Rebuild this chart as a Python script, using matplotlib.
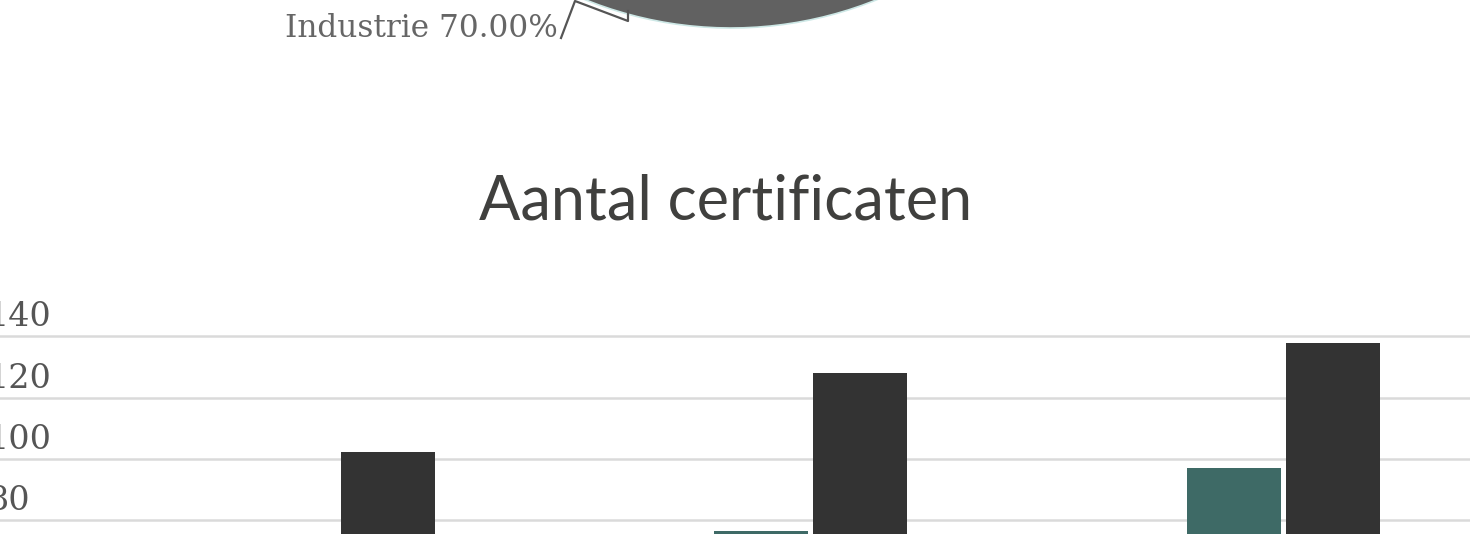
#!/usr/bin/env python3
"""Aantal certificaten: bar chart under a (cropped) pie chart."""

import matplotlib

matplotlib.use("Agg")
import matplotlib.pyplot as plt
from matplotlib.lines import Line2D
from matplotlib.transforms import offset_copy
import numpy as np

# pie data (only the bottom of the Industrie slice is visible)
pie_labels = ["Industrie", "Overig"]
pie_values = [70.0, 30.0]
pie_colors = ["#616161", "#3e6a66"]

# bar data
categories = ["2016", "2017", "2018"]
series_names = ["Nieuw", "Totaal"]
series_values = [
    [60, 76.5, 97],
    [102.3, 128, 137.7],
]
series_colors = ["#3e6a66", "#333333"]
yticks = [80, 100, 120, 140]

W, H = 1470, 534
fig = plt.figure(figsize=(W / 100, H / 100), dpi=100)
fig.patch.set_facecolor("white")

# --- pie, mostly above the visible area
cx, cy, r = 731, -362, 390  # pixels, from top
pax = fig.add_axes([(cx - r) / W, (H - cy - r) / H, 2 * r / W, 2 * r / H])
pax.pie(pie_values, colors=pie_colors, startangle=90, counterclock=False,
        wedgeprops=dict(edgecolor="#cde8e6", linewidth=1.2))
pax.set_xlim(-1, 1)
pax.set_ylim(-1, 1)
pax.set_axis_off()

# connector + label
px = [561, 575, 628, 628]
py = [38, 1, 21, 11]
fig.add_artist(Line2D([x / W for x in px], [1 - y / H for y in py],
                      color="#555555", linewidth=1.6, transform=fig.transFigure))
fig.text(558 / W, 1 - 37 / H, f"{pie_labels[0]} {pie_values[0]:.2f}%",
         ha="right", va="baseline", fontsize=22.4, color="#666666",
         family="DejaVu Serif")

# --- title
fig.text(726 / W, 1 - 220 / H, "Aantal certificaten", ha="center", va="baseline",
         fontsize=44, color="#40403e", family="Lato", weight="normal")

# --- bar chart
top_px = 290
ax = fig.add_axes([0, 0, 1, (H - top_px) / H])
px_per_unit = 61.33 / 20
ax.set_ylim(80 - (H - 520.3) / px_per_unit, 80 + (520.3 - top_px) / px_per_unit)
spacing = 472.5
x0 = -338.5 / spacing
ax.set_xlim(x0, x0 + W / spacing)

x = np.arange(len(categories))
bw = 94 / spacing
off = 49.5 / spacing
for i, (vals, col) in enumerate(zip(series_values, series_colors)):
    ax.bar(x + (i * 2 - 1) * off, vals, width=bw, color=col, label=series_names[i],
           zorder=3)

for v in yticks:
    ax.axhline(v, color="#dadada", linewidth=1.8, zorder=1)

# y labels sit above their grid line, left aligned (cut at the page edge)
lab_tr = offset_copy(ax.get_yaxis_transform(), fig=fig, x=0, y=10, units="dots")
for v in yticks:
    ax.text(-12 / W, v, str(v), transform=lab_tr, ha="left", va="baseline",
            fontsize=24, color="#555555", family="DejaVu Serif", clip_on=False)

ax.set_axis_off()

fig.savefig("out.png", dpi=100, facecolor="white")
